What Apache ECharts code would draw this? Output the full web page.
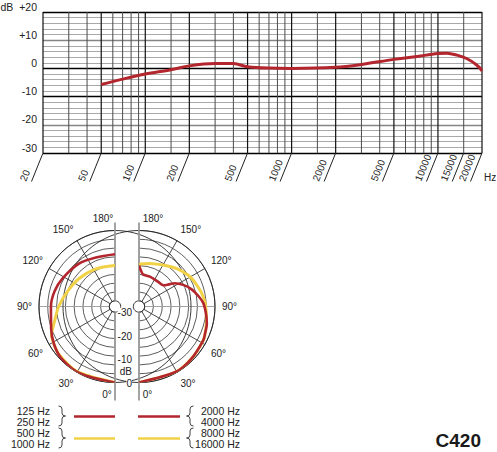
<!DOCTYPE html>
<html>
<head>
<meta charset="utf-8">
<script src="https://cdn.jsdelivr.net/npm/echarts@6/dist/echarts.min.js"></script>
<style>
html, body { margin: 0; padding: 0; background: #fff; }
#main { width: 497px; height: 452px; }
</style>
</head>
<body>
<div id="main"></div>
<script>
var FONT = 'Liberation Sans, Arial, Helvetica, sans-serif';

// frequency response (Hz / dB)
var respFreq = [50, 70, 100, 150, 200, 300, 400, 500, 700, 1000, 2000, 3000, 5000, 7000, 10000, 11500, 13500, 15700, 18400, 20000];
var respDb = [-5.7, -3.8, -2.0, -0.5, 0.9, 1.7, 1.7, 0.6, 0.1, 0, 0.4, 1.4, 3.2, 4.1, 5.3, 5.4, 4.7, 3.5, 1.2, -0.9];

var majorFreq = [20, 50, 100, 200, 500, 1000, 2000, 5000, 10000, 20000];
var minorFreq = [30, 40, 60, 70, 80, 90, 150, 300, 400, 600, 700, 800, 900, 1500, 3000, 4000, 6000, 7000, 8000, 9000, 15000];
var freqLabels = [20, 50, 100, 200, 500, 1000, 2000, 5000, 10000, 15000, 20000];
var dbMin = -30, dbMax = 20;

// polar patterns: angle (deg) / level (dB)
var lowRedAngle = [0, 28, 46, 58, 71, 90, 104, 118, 140, 159, 180];
var lowRedDb = [0, -0.2, -0.6, -1.8, -3.6, -5.1, -5.8, -7.0, -8.5, -10.0, -10.1];
var lowYellowAngle = [0, 30, 50, 60, 66, 76, 90, 108, 128, 153, 180];
var lowYellowDb = [0, -0.3, -1.0, -2.0, -2.8, -5.8, -8.4, -11.2, -13.0, -14.4, -14.9];
var highRedAngle = [0, 30, 45, 62, 68, 76, 84, 93, 100, 108, 116, 123, 127, 131, 142, 160, 173, 177, 180];
var highRedDb = [0, -0.4, -0.85, -1.45, -2.0, -2.6, -3.7, -4.95, -6.7, -8.8, -11.4, -14.2, -16.9, -18.6, -19.1, -18.9, -18.6, -17.0, -14.9];
var highYellowAngle = [0, 30, 45, 62, 70, 80, 93, 102, 112, 122, 135, 150, 166, 178, 180];
var highYellowDb = [0, -0.4, -0.85, -1.45, -2.2, -3.2, -4.2, -5.1, -6.3, -7.5, -9.6, -12.0, -13.5, -14.3, -14.9];

var radialTicks = [-30, -20, -10, -5, 0];
var radialText = ['-30', '-20', '-10', 'dB', '0'];

var legendLeft = ['125 Hz', '250 Hz', '500 Hz', '1000 Hz'];
var legendRight = ['2000 Hz', '4000 Hz', '8000 Hz', '16000 Hz'];

var RED = '#b3262d';
var YELLOW = '#f1d247';

function pairs(a, b) {
    return a.map(function (v, i) { return [v, b[i]]; });
}
function polarPairs(angles, dbs) {
    return angles.map(function (a, i) { return [dbs[i], a]; });
}

// curly brace built from curves and lines; dir 1 = "}", dir -1 = "{"
function brace(x, yc, h, dir) {
    var k = h / 2, w = 3.5 * dir;
    var st = { stroke: '#444', lineWidth: 1, fill: null };
    function curve(x1, y1, cx, cy, x2, y2) {
        return { type: 'bezierCurve', shape: { x1: x1, y1: y1, cpx1: cx, cpy1: cy, x2: x2, y2: y2 }, style: st };
    }
    return {
        type: 'group',
        children: [
            curve(x - w, yc - k, x, yc - k, x, yc - k + 3),
            { type: 'line', shape: { x1: x, y1: yc - k + 3, x2: x, y2: yc - 3 }, style: st },
            curve(x, yc - 3, x, yc, x + w, yc),
            curve(x + w, yc, x, yc, x, yc + 3),
            { type: 'line', shape: { x1: x, y1: yc + 3, x2: x, y2: yc + k - 3 }, style: st },
            curve(x, yc + k - 3, x, yc + k, x - w, yc + k)
        ]
    };
}

var dom = document.getElementById('main');
var myChart = echarts.init(dom, null, { renderer: 'svg' });

function angleAxis(index, start, end, clockwise, shiftEnds) {
    return {
        polarIndex: index,
        type: 'value',
        min: 0,
        max: 180,
        interval: 30,
        startAngle: start,
        endAngle: end,
        clockwise: clockwise,
        axisLine: { show: true, lineStyle: { color: '#222', width: 0.9 } },
        axisTick: { show: false },
        splitLine: { show: true, lineStyle: { color: ['#999', '#333', '#333', '#999', '#333', '#333', '#999'], width: 0.9 } },
        axisLabel: {
            margin: 7,
            fontSize: 10,
            color: '#222',
            fontFamily: FONT,
            formatter: function (v) {
                if (v === 180) return '{t|180°}';
                if (v === 0) return '{b|0°}';
                return v + '°';
            },
            rich: shiftEnds
        }
    };
}

function radiusAxis(index) {
    return {
        polarIndex: index,
        type: 'value',
        min: -30,
        max: 0,
        interval: 3.75,
        axisLine: { show: false },
        axisTick: { show: false },
        axisLabel: { show: false },
        splitLine: { show: true, lineStyle: { color: '#333', width: 0.8 } }
    };
}

function renderCenterLine(params, api) {
    var cs = params.coordSys;
    var st = { stroke: '#9a9a9a', lineWidth: 1.8 };
    return {
        type: 'group',
        children: [
            { type: 'line', shape: { x1: cs.cx, y1: cs.cy - cs.r - 8, x2: cs.cx, y2: cs.cy - cs.r0 }, style: st },
            { type: 'line', shape: { x1: cs.cx, y1: cs.cy + cs.r0, x2: cs.cx, y2: cs.cy + cs.r + 18 }, style: st }
        ]
    };
}

option = {
    backgroundColor: '#fff',
    animation: false,
    textStyle: { fontFamily: FONT },
    grid: { left: 43, right: 15, top: 12, height: 141, containLabel: false, outerBoundsMode: 'none' },
    xAxis: {
        type: 'log',
        logBase: 10,
        min: 20,
        max: 20000,
        axisLine: { show: false },
        axisTick: { show: false },
        axisLabel: { show: false },
        splitLine: { show: false }
    },
    yAxis: {
        type: 'value',
        min: dbMin,
        max: dbMax,
        interval: 10,
        axisLine: { show: false },
        axisTick: { show: false },
        axisLabel: {
            fontSize: 10.5,
            color: '#222',
            fontFamily: FONT,
            margin: 6,
            verticalAlign: 'bottom',
            formatter: function (v) {
                if (v === 20) return 'dB  +20';
                return v > 0 ? '+' + v : String(v);
            }
        },
        splitLine: { lineStyle: { color: ['#000', '#858585', '#000', '#000', '#858585', '#000'], width: 1.3 } },
        minorTick: { show: false, splitNumber: 5 },
        minorSplitLine: { show: true, lineStyle: { color: '#a9a9a9', width: 1 } }
    },
    polar: [
        { center: [115, 306.5], radius: [5.7, 76] },
        { center: [139, 306.5], radius: [5.7, 76] }
    ],
    angleAxis: [
        angleAxis(0, 270, 90, true, {
            t: { padding: [0, 24, 0, 0], fontSize: 10, color: '#222' },
            b: { padding: [0, 16, 0, 0], fontSize: 10, color: '#222' }
        }),
        angleAxis(1, -90, 90, false, {
            t: { padding: [0, 0, 0, 28], fontSize: 10, color: '#222' },
            b: { padding: [0, 0, 0, 17], fontSize: 10, color: '#222' }
        })
    ],
    radiusAxis: [radiusAxis(0), radiusAxis(1)],
    graphic: [
        { type: 'text', x: 484, y: 177, style: { text: 'Hz', fill: '#222', font: '10px ' + FONT, verticalAlign: 'middle' } },
        {
            type: 'group',
            children: legendLeft.map(function (t, i) {
                return { type: 'text', x: 50, y: 411 + i * 11, style: { text: t, fill: '#222', font: '10.5px ' + FONT, align: 'right', verticalAlign: 'middle' } };
            }).concat(legendRight.map(function (t, i) {
                return { type: 'text', x: 240, y: 411 + i * 11, style: { text: t, fill: '#222', font: '10.5px ' + FONT, align: 'right', verticalAlign: 'middle' } };
            })).concat([
                brace(62, 416, 20, 1),
                brace(62, 438, 20, 1),
                brace(190, 416, 20, -1),
                brace(190, 438, 20, -1),
                { type: 'line', shape: { x1: 74, y1: 416.5, x2: 115, y2: 416.5 }, style: { stroke: RED, lineWidth: 2.5 } },
                { type: 'line', shape: { x1: 138, y1: 416.5, x2: 180, y2: 416.5 }, style: { stroke: RED, lineWidth: 2.5 } },
                { type: 'line', shape: { x1: 74, y1: 438.5, x2: 115, y2: 438.5 }, style: { stroke: YELLOW, lineWidth: 2.5 } },
                { type: 'line', shape: { x1: 138, y1: 438.5, x2: 180, y2: 438.5 }, style: { stroke: YELLOW, lineWidth: 2.5 } }
            ])
        },
        { type: 'text', x: 481, y: 440, style: { text: 'C420', fill: '#1a1a1a', font: 'bold 19px ' + FONT, align: 'right', verticalAlign: 'middle' } }
    ],
    series: [
        {
            name: 'grid',
            type: 'custom',
            silent: true,
            z: 1,
            data: majorFreq.concat(minorFreq).map(function (f) { return [f, 0]; }),
            renderItem: function (params, api) {
                var f = api.value(0);
                var top = api.coord([f, dbMax]);
                var bot = api.coord([f, dbMin]);
                var major = majorFreq.indexOf(f) !== -1;
                return {
                    type: 'line',
                    shape: { x1: top[0], y1: top[1], x2: bot[0], y2: bot[1] },
                    style: { stroke: major ? '#111' : '#4a4a4a', lineWidth: major ? 1.2 : 1 }
                };
            }
        },
        {
            name: 'freqLabels',
            type: 'custom',
            silent: true,
            z: 1,
            clip: false,
            data: freqLabels.map(function (f) { return [f, dbMin]; }),
            renderItem: function (params, api) {
                var f = api.value(0);
                var p = api.coord([f, dbMin]);
                var ex = p[0] - 11.5, ey = p[1] + 28.5;
                return {
                    type: 'group',
                    children: [
                        { type: 'line', shape: { x1: p[0], y1: p[1], x2: ex, y2: ey }, style: { stroke: '#222', lineWidth: 1 } },
                        {
                            type: 'text', x: ex - 4, y: ey + 1, rotation: 68 * Math.PI / 180,
                            style: { text: String(f), fill: '#222', font: '10px ' + FONT, align: 'left', verticalAlign: 'bottom' }
                        }
                    ]
                };
            }
        },
        {
            name: 'response',
            type: 'line',
            data: pairs(respFreq, respDb),
            smooth: 0.35,
            symbol: 'none',
            z: 5,
            lineStyle: { color: RED, width: 3 }
        },
        { type: 'custom', coordinateSystem: 'polar', polarIndex: 0, silent: true, z: 1, data: [[0, 0]], renderItem: renderCenterLine },
        { type: 'custom', coordinateSystem: 'polar', polarIndex: 1, silent: true, z: 1, data: [[0, 0]], renderItem: renderCenterLine },
        {
            name: 'radialLabels',
            type: 'custom',
            coordinateSystem: 'polar',
            polarIndex: 1,
            silent: true,
            z: 3,
            data: radialTicks.map(function (v) { return [v, 0]; }),
            renderItem: function (params, api) {
                var p = api.coord([api.value(0), api.value(1)]);
                return {
                    type: 'text', x: p[0] - 7, y: p[1] + 0.5,
                    style: { text: radialText[params.dataIndex], fill: '#222', font: '10px ' + FONT, align: 'right', verticalAlign: 'middle', backgroundColor: '#fff' }
                };
            }
        },
        {
            name: '500 / 1000 Hz', type: 'line', coordinateSystem: 'polar', polarIndex: 0,
            data: polarPairs(lowYellowAngle, lowYellowDb), smooth: 0.3, symbol: 'none', z: 4,
            lineStyle: { color: YELLOW, width: 3 }
        },
        {
            name: '125 / 250 Hz', type: 'line', coordinateSystem: 'polar', polarIndex: 0,
            data: polarPairs(lowRedAngle, lowRedDb), smooth: 0.3, symbol: 'none', z: 5,
            lineStyle: { color: RED, width: 2.6 }
        },
        {
            name: '8000 / 16000 Hz', type: 'line', coordinateSystem: 'polar', polarIndex: 1,
            data: polarPairs(highYellowAngle, highYellowDb), smooth: 0.3, symbol: 'none', z: 4,
            lineStyle: { color: YELLOW, width: 3 }
        },
        {
            name: '2000 / 4000 Hz', type: 'line', coordinateSystem: 'polar', polarIndex: 1,
            data: polarPairs(highRedAngle, highRedDb), smooth: 0.3, symbol: 'none', z: 5,
            lineStyle: { color: RED, width: 2.6 }
        }
    ]
};

if (option && typeof option === 'object') {
    myChart.setOption(option);
}

window.addEventListener('resize', myChart.resize);
</script>
</body>
</html>
